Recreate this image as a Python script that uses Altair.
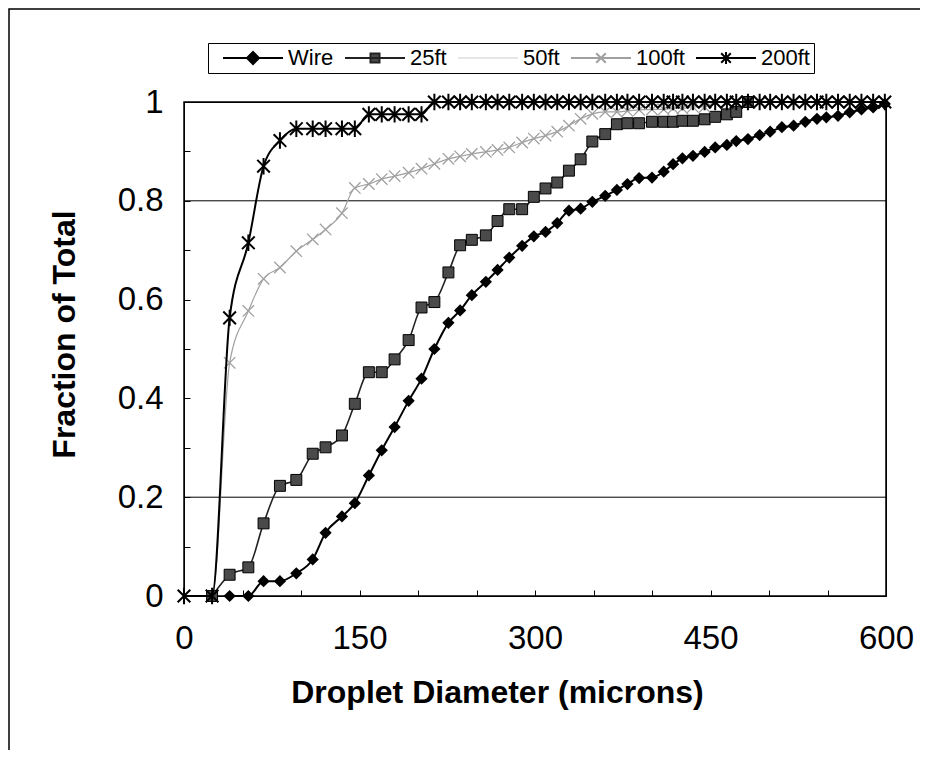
import altair as alt
import pandas as pd

# ---------------- data ----------------
SERIES = ["Wire", "25ft", "50ft", "100ft", "200ft"]

BINS = [0, 24, 39, 55, 68, 82, 96, 110, 121, 135,
        146, 158, 169, 180, 192, 203, 214, 226, 236, 246,
        258, 268, 278, 289, 299, 309, 319, 329, 339, 349,
        360, 370, 379, 389, 400, 410, 418, 426, 435, 445,
        454, 464, 472, 482, 492, 501, 511, 521, 531, 541,
        549, 559, 569, 579, 589, 599]

WIRE = [None, None, 0.0, 0.0, 0.03, 0.03, 0.046, 0.074, 0.128, 0.161,
        0.188, 0.244, 0.295, 0.342, 0.395, 0.44, 0.50, 0.553, 0.578, 0.609,
        0.636, 0.66, 0.685, 0.709, 0.728, 0.737, 0.755, 0.78, 0.784, 0.798,
        0.81, 0.822, 0.834, 0.846, 0.847, 0.859, 0.874, 0.886, 0.891, 0.899,
        0.908, 0.913, 0.921, 0.925, 0.933, 0.94, 0.949, 0.952, 0.96, 0.966,
        0.969, 0.972, 0.979, 0.985, 0.989, 0.996]

FT25 = [None, 0.0, 0.043, 0.058, 0.147, 0.223, 0.235, 0.288, 0.301, 0.325,
        0.389, 0.453, 0.453, 0.479, 0.518, 0.584, 0.595, 0.655, 0.71, 0.721,
        0.73, 0.759, 0.783, 0.783, 0.808, 0.825, 0.837, 0.861, 0.884, 0.92,
        0.935, 0.955, 0.957, 0.957, 0.96, 0.96, 0.96, 0.962, 0.962, 0.965,
        0.97, 0.975, 0.98, 1.0, None, None, None, None, None, None,
        None, None, None, None, None, None]

FT100 = [0.0, 0.0, 0.472, 0.577, 0.642, 0.665, 0.698, 0.722, 0.742, 0.775,
         0.826, 0.834, 0.844, 0.85, 0.857, 0.865, 0.875, 0.885, 0.89, 0.895,
         0.899, 0.903, 0.908, 0.918, 0.926, 0.932, 0.94, 0.952, 0.966, 0.976,
         0.98, 0.98, 0.982, 0.984, 0.985, 0.985, 0.987, 0.987, 0.99, 0.99,
         1.0, 1.0, 1.0, 1.0, 1.0, 1.0, 1.0, 1.0, 1.0, 1.0,
         1.0, 1.0, 1.0, 1.0, 1.0, 1.0]

FT200 = [0.0, 0.0, 0.563, 0.715, 0.87, 0.922, 0.946, 0.946, 0.946, 0.946,
         0.946, 0.975, 0.975, 0.975, 0.975, 0.975, 1.0, 1.0, 1.0, 1.0,
         1.0, 1.0, 1.0, 1.0, 1.0, 1.0, 1.0, 1.0, 1.0, 1.0,
         1.0, 1.0, 1.0, 1.0, 1.0, 1.0, 1.0, 1.0, 1.0, 1.0,
         1.0, 1.0, 1.0, 1.0, 1.0, 1.0, 1.0, 1.0, 1.0, 1.0,
         1.0, 1.0, 1.0, 1.0, 1.0, 1.0]

X_TICKS = [0, 50, 100, 150, 200, 250, 300, 350, 400, 450, 500, 550, 600]
Y_TICKS = [0, 0.1, 0.2, 0.3, 0.4, 0.5, 0.6, 0.7, 0.8, 0.9, 1.0]
GRID = [0.2, 0.8]

rows = []
for name, vals in [("Wire", WIRE), ("25ft", FT25), ("100ft", FT100), ("200ft", FT200)]:
    for xv, yv in zip(BINS, vals):
        if yv is not None:
            rows.append({"series": name, "x": xv, "y": yv})
df = pd.DataFrame(rows)
grid_df = pd.DataFrame({"y": GRID})

# ---------------- styling ----------------
FONT = "Liberation Sans"
LINE_COL = {"Wire": "#000000", "25ft": "#222222", "50ft": "#e6e6e6",
            "100ft": "#a0a0a0", "200ft": "#000000"}
FILL_COL = {"Wire": "#000000", "25ft": "#4a4a4a", "50ft": "#e6e6e6",
            "100ft": "#a0a0a0", "200ft": "#000000"}
X_PATH = "M-1,-1L1,1M-1,1L1,-1"
STAR_PATH = "M-1,-1L1,1M-1,1L1,-1M0,-1.3L0,1.3"
LEGEND_PATHS = [
    "M-5,0L5,0M0,-1L1,0L0,1L-1,0Z",
    "M-5,0L5,0M-0.75,-0.75L0.75,-0.75L0.75,0.75L-0.75,0.75Z",
    "M-5,0L5,0",
    "M-5,0L5,0M-0.8,-0.8L0.8,0.8M-0.8,0.8L0.8,-0.8",
    "M-5,0L5,0M-0.8,-0.8L0.8,0.8M-0.8,0.8L0.8,-0.8M0,-1L0,1",
]

x_scale = alt.Scale(domain=[0, 600], nice=False, zero=False)
y_scale = alt.Scale(domain=[0, 1], nice=False, zero=False)

x_enc = alt.X(
    "x:Q", scale=x_scale,
    axis=alt.Axis(
        values=X_TICKS,
        labelExpr="datum.value % 150 == 0 ? datum.label : ''",
        title="Droplet Diameter (microns)",
        grid=False, domain=False, tickSize=6, offset=-6, tickColor="black",
        labelFont=FONT, labelFontSize=33, labelColor="black", labelPadding=26,
        labelFlush=False, labelOverlap=False,
        titleFont=FONT, titleFontSize=32, titleFontWeight="bold", titleColor="black",
        titleX=313, titleY=112, titleBaseline="alphabetic",
    ),
)
y_enc = alt.Y(
    "y:Q", scale=y_scale,
    axis=alt.Axis(
        values=Y_TICKS,
        labelExpr="round(datum.value * 10) % 2 == 0 ? format(datum.value, '~g') : ''",
        title="Fraction of Total",
        grid=False, domain=False, tickSize=6, offset=-6, tickColor="black",
        labelFont=FONT, labelFontSize=33, labelColor="black", labelPadding=21,
        labelFlush=False, labelOverlap=False, labelBaseline="middle",
        titleFont=FONT, titleFontSize=32, titleFontWeight="bold", titleColor="black",
        titleX=-116, titleY=232, titleBaseline="alphabetic",
    ),
)

base = alt.Chart(df)

frame = alt.Chart(pd.DataFrame({"k": [0]})).mark_rect(
    fillOpacity=0, stroke="black", strokeWidth=1.5
).encode(x=alt.value(-175), x2=alt.value(760), y=alt.value(-93), y2=alt.value(720))

grid = alt.Chart(grid_df).mark_rule(color="black", strokeWidth=1).encode(y=y_enc)

axis_lines = alt.Chart(pd.DataFrame({"k": [0]})).mark_rect(
    fillOpacity=0, stroke="black", strokeWidth=1.5
).encode(x=alt.value(0), x2=alt.value(702), y=alt.value(0), y2=alt.value(494))


def series_line(name, width):
    return base.transform_filter(alt.datum.series == name).mark_line(
        interpolate="monotone", color=LINE_COL[name], strokeWidth=width
    ).encode(x=x_enc, y=y_enc)


wire_pts = base.transform_filter(alt.datum.series == "Wire").mark_point(
    shape="diamond", filled=True, color="black", size=150, opacity=1
).encode(x=x_enc, y=y_enc)
ft25_pts = base.transform_filter(alt.datum.series == "25ft").mark_point(
    shape="square", filled=True, fill=FILL_COL["25ft"], stroke="black",
    strokeWidth=1, size=120, opacity=1
).encode(x=x_enc, y=y_enc)
ft100_pts = base.transform_filter(alt.datum.series == "100ft").mark_point(
    shape=X_PATH, filled=False, color=LINE_COL["100ft"], size=130,
    strokeWidth=1.3, opacity=1
).encode(x=x_enc, y=y_enc)
ft200_pts = base.transform_filter(alt.datum.series == "200ft").mark_point(
    shape=STAR_PATH, filled=False, color="black", size=160,
    strokeWidth=2, opacity=1
).encode(x=x_enc, y=y_enc)

leg = alt.Legend(
    title=None, orient="none", legendX=24, legendY=-59,
    direction="horizontal", columns=5,
    symbolSize=144, symbolStrokeWidth=2, symbolOffset=30,
    labelFont=FONT, labelFontSize=22, labelColor="black", labelOffset=24,
    columnPadding=0, padding=4, strokeColor="black", fillColor="white",
)
legend_layer = base.transform_filter("datum.y > 2").mark_point(
    filled=True, opacity=1, strokeWidth=2
).encode(
    x=x_enc, y=y_enc,
    shape=alt.Shape("series:N", scale=alt.Scale(domain=SERIES, range=LEGEND_PATHS), legend=leg),
    fill=alt.Fill("series:N", scale=alt.Scale(domain=SERIES, range=[FILL_COL[s] for s in SERIES]), legend=leg),
    stroke=alt.Stroke("series:N", scale=alt.Scale(domain=SERIES, range=[LINE_COL[s] for s in SERIES]), legend=leg),
)

chart = alt.layer(
    frame, grid, axis_lines,
    series_line("Wire", 2), wire_pts,
    series_line("25ft", 1.6), ft25_pts,
    series_line("100ft", 1.2), ft100_pts,
    series_line("200ft", 2), ft200_pts,
    legend_layer,
).properties(
    width=702, height=494,
    autosize=alt.AutoSizeParams(type="none"),
    padding={"left": 176, "top": 94, "right": 34, "bottom": 154},
    background="white",
).configure_view(stroke="black", strokeWidth=1)

chart.save("out.html", embed_options={"renderer": "svg", "actions": False})
